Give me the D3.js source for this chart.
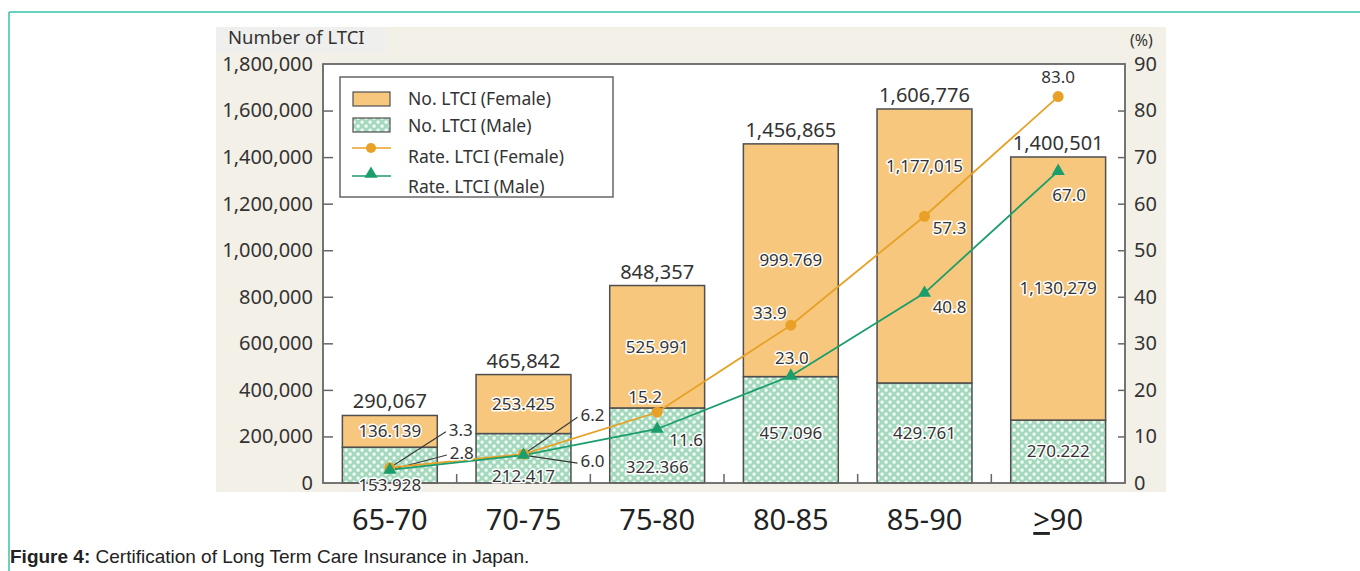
<!DOCTYPE html>
<html><head><meta charset="utf-8">
<script src="https://cdn.jsdelivr.net/npm/d3@7"></script>
<style>
html,body{margin:0;padding:0;background:#fff;}
svg{display:block;}
</style></head>
<body>
<svg id="chart" width="1360" height="571"></svg>
<script>
// ---- data ----
const categories = ["65-70", "70-75", "75-80", "80-85", "85-90", ">=90"];
const femaleCount = [136139, 253425, 525991, 999769, 1177015, 1130279];
const maleCount = [153928, 212417, 322366, 457096, 429761, 270222];
const totalLabels = ["290,067", "465,842", "848,357", "1,456,865", "1,606,776", "1,400,501"];
const femaleLabels = ["136.139", "253.425", "525.991", "999.769", "1,177,015", "1,130,279"];
const maleLabels = ["153.928", "212.417", "322.366", "457.096", "429.761", "270.222"];
const femaleRate = [3.3, 6.2, 15.2, 33.9, 57.3, 83.0];
const maleRate = [2.8, 6.0, 11.6, 23.0, 40.8, 67.0];
const leftTicks = [0, 200000, 400000, 600000, 800000, 1000000, 1200000, 1400000, 1600000, 1800000];
const rightTicks = [0, 10, 20, 30, 40, 50, 60, 70, 80, 90];
const legendLabels = ["No. LTCI (Female)", "No. LTCI (Male)", "Rate. LTCI (Female)", "Rate. LTCI (Male)"];

// ---- layout helpers (not data) ----
const femaleLabelFrac = [0.5, 0.5, 0.5, 0.5, 0.79, 0.5];
const maleLabelFrac = [-0.05, 0.14, 0.21, 0.47, 0.5, 0.5];
const femaleRateOff = [[71,-38,true],[69,-39,true],[-12,-15,false],[-21,-12,false],[25,12,false],[0,-20,false]];
const maleRateOff = [[72,-17,true],[69,6,true],[29,11,false],[1,-18,false],[25,14,false],[11,24,false]];

const C = {frame:"#34c4a6", beige:"#f3f0e8", axis:"#666", text:"#333", female:"#f6c77d",
  barStroke:"#4f4f4f", orange:"#e8a126", green:"#1c9d6c", maleBase:"#a4d9bd"};
const FONT = "'Noto Sans', 'Open Sans', sans-serif";

const svg = d3.select("#chart");

// frame
svg.append("line").attr("x1",9).attr("x2",1360).attr("y1",12).attr("y2",12).attr("stroke",C.frame).attr("stroke-width",1.5);
svg.append("line").attr("x1",9).attr("x2",9).attr("y1",12).attr("y2",571).attr("stroke",C.frame).attr("stroke-width",1.5);

// beige background
svg.append("rect").attr("x",216).attr("y",27).attr("width",950).attr("height",465).attr("fill",C.beige);
svg.append("rect").attr("x",216).attr("y",27).attr("width",170).attr("height",26).attr("fill","#efefed");

// pattern
const defs = svg.append("defs");
const pat = defs.append("pattern").attr("id","maleP").attr("patternUnits","userSpaceOnUse")
  .attr("width",8).attr("height",8);
pat.append("rect").attr("width",8).attr("height",8).attr("fill",C.maleBase);
pat.append("rect").attr("x",0.5).attr("y",0.5).attr("width",3.2).attr("height",3.2).attr("rx",1.2).attr("fill","#f4fbf6");
pat.append("rect").attr("x",4.5).attr("y",4.5).attr("width",3.2).attr("height",3.2).attr("rx",1.2).attr("fill","#f4fbf6");

const L = 323, R = 1125, T = 64, B = 483;
const x = d3.scaleBand().domain(categories).range([L, R]).paddingInner(0.29).paddingOuter(0.145);
const yL = d3.scaleLinear().domain([0, 1800000]).range([B, T]);
const yR = d3.scaleLinear().domain([0, 90]).range([B, T]);

// plot area
svg.append("rect").attr("x",L).attr("y",T).attr("width",R-L).attr("height",B-T).attr("fill","#fff");

// axes
const leftAxis = d3.axisLeft(yL).tickValues(leftTicks).tickFormat(d3.format(",")).tickSize(-10).tickPadding(20);
const gl = svg.append("g").attr("transform",`translate(${L},0)`).call(leftAxis);
gl.select(".domain").remove();
gl.selectAll(".tick line").attr("stroke",C.axis).attr("stroke-width",1.5);
gl.selectAll(".tick text").attr("font-family",FONT).attr("font-size",20).attr("fill",C.text).attr("x",-10);
gl.selectAll(".tick").filter(d=>d===0||d===1800000).select("line").remove();

const rightAxis = d3.axisRight(yR).tickValues(rightTicks).tickSize(-7).tickPadding(16);
const gr = svg.append("g").attr("transform",`translate(${R},0)`).call(rightAxis);
gr.select(".domain").remove();
gr.selectAll(".tick line").attr("stroke",C.axis).attr("stroke-width",1.5);
gr.selectAll(".tick text").attr("font-family",FONT).attr("font-size",20).attr("fill",C.text).attr("x",9);
gr.selectAll(".tick").filter(d=>d===0||d===90).select("line").remove();

// x ticks between bars
const step = x.step();
svg.append("g").selectAll("line").data(categories.slice(1)).join("line")
  .attr("x1",d=>x(d)-step*x.paddingInner()/2).attr("x2",d=>x(d)-step*x.paddingInner()/2)
  .attr("y1",B).attr("y2",B-9).attr("stroke",C.axis).attr("stroke-width",1.5);

// bars
const bars = svg.append("g");
categories.forEach((c,i)=>{
  const bx = x(c), bw = x.bandwidth();
  bars.append("rect").attr("x",bx).attr("y",yL(maleCount[i])).attr("width",bw).attr("height",B-yL(maleCount[i]))
    .attr("fill","url(#maleP)").attr("stroke",C.barStroke).attr("stroke-width",1.5);
  bars.append("rect").attr("x",bx).attr("y",yL(maleCount[i]+femaleCount[i])).attr("width",bw)
    .attr("height",yL(maleCount[i])-yL(maleCount[i]+femaleCount[i]))
    .attr("fill",C.female).attr("stroke",C.barStroke).attr("stroke-width",1.5);
});

// plot frame
svg.append("rect").attr("x",L).attr("y",T).attr("width",R-L).attr("height",B-T).attr("fill","none")
  .attr("stroke",C.axis).attr("stroke-width",1.8);

// totals
svg.append("g").selectAll("text").data(categories).join("text")
  .attr("x",d=>x(d)+x.bandwidth()/2).attr("y",(d,i)=>yL(maleCount[i]+femaleCount[i])-7)
  .attr("text-anchor","middle").attr("font-family",FONT).attr("font-size",20).attr("fill",C.text)
  .text((d,i)=>totalLabels[i]);

function halo(sel){ return sel.attr("stroke","#fff").attr("stroke-width",3).attr("paint-order","stroke").attr("stroke-linejoin","round"); }

// inner labels
svg.append("g").selectAll("text").data(categories).join("text")
  .attr("x",d=>x(d)+x.bandwidth()/2)
  .attr("y",(d,i)=>yL(maleCount[i]+femaleCount[i]*femaleLabelFrac[i]))
  .attr("dy","0.35em").attr("text-anchor","middle").attr("font-family",FONT).attr("font-size",17).attr("fill",C.text)
  .text((d,i)=>femaleLabels[i]).call(halo);
svg.append("g").selectAll("text").data(categories).join("text")
  .attr("x",d=>x(d)+x.bandwidth()/2)
  .attr("y",(d,i)=>yL(maleCount[i]*maleLabelFrac[i]))
  .attr("dy","0.35em").attr("text-anchor","middle").attr("font-family",FONT).attr("font-size",17).attr("fill",C.text)
  .text((d,i)=>maleLabels[i]).call(halo);

// callout lines
const cx = d => x(d)+x.bandwidth()/2;
const callG = svg.append("g");
function callouts(rates, offs){
  categories.forEach((c,i)=>{
    if(!offs[i][2]) return;
    callG.append("line").attr("x1",cx(c)).attr("y1",yR(rates[i]))
      .attr("x2",cx(c)+offs[i][0]-15).attr("y2",yR(rates[i])+offs[i][1]+2)
      .attr("stroke","#3a3a3a").attr("stroke-width",1.2);
  });
}
callouts(femaleRate, femaleRateOff);
callouts(maleRate, maleRateOff);

// lines
const lineF = d3.line().x((d,i)=>cx(categories[i])).y(d=>yR(d));
svg.append("path").attr("d",lineF(femaleRate)).attr("fill","none").attr("stroke",C.orange).attr("stroke-width",1.8);
svg.append("path").attr("d",lineF(maleRate)).attr("fill","none").attr("stroke",C.green).attr("stroke-width",1.8);
svg.append("g").selectAll("circle").data(femaleRate).join("circle")
  .attr("cx",(d,i)=>cx(categories[i])).attr("cy",d=>yR(d)).attr("r",5.5).attr("fill",C.orange);
const tri = d3.symbol().type(d3.symbolTriangle).size(75);
svg.append("g").selectAll("path").data(maleRate).join("path")
  .attr("transform",(d,i)=>`translate(${cx(categories[i])},${yR(d)})`).attr("d",tri).attr("fill",C.green);

// rate labels
function rateLabels(rates, offs){
  svg.append("g").selectAll("text").data(rates).join("text")
    .attr("x",(d,i)=>cx(categories[i])+offs[i][0]).attr("y",(d,i)=>yR(d)+offs[i][1])
    .attr("dy","0.35em").attr("text-anchor","middle").attr("font-family",FONT).attr("font-size",17).attr("fill",C.text)
    .text(d=>d.toFixed(1)).call(halo);
}
rateLabels(femaleRate, femaleRateOff);
rateLabels(maleRate, maleRateOff);

// legend
const lg = svg.append("g");
lg.append("rect").attr("x",340).attr("y",77).attr("width",273).attr("height",120).attr("fill","#fff")
  .attr("stroke",C.axis).attr("stroke-width",1.5);
const ly = [99, 126, 157, 187];
lg.append("rect").attr("x",353).attr("y",92).attr("width",37).attr("height",14).attr("fill",C.female).attr("stroke",C.barStroke).attr("stroke-width",1.2);
lg.append("rect").attr("x",353).attr("y",118).attr("width",37).attr("height",14).attr("fill","url(#maleP)").attr("stroke",C.barStroke).attr("stroke-width",1.2);
lg.append("line").attr("x1",352).attr("x2",391).attr("y1",148).attr("y2",148).attr("stroke",C.orange).attr("stroke-width",1.5);
lg.append("circle").attr("cx",371).attr("cy",148).attr("r",5).attr("fill",C.orange);
lg.append("line").attr("x1",352).attr("x2",391).attr("y1",176).attr("y2",176).attr("stroke",C.green).attr("stroke-width",1.5);
lg.append("path").attr("transform","translate(371,174)").attr("d",tri).attr("fill",C.green);
lg.selectAll("text").data(legendLabels).join("text")
  .attr("x",408).attr("y",(d,i)=>ly[i]).attr("dy","0.35em").attr("font-family",FONT).attr("font-size",17.5).attr("fill",C.text)
  .text(d=>d);

// axis titles
svg.append("text").attr("x",228).attr("y",44).attr("font-family",FONT).attr("font-size",18.5).attr("fill",C.text).text("Number of LTCI");
svg.append("text").attr("x",1130).attr("y",46).attr("font-family",FONT).attr("font-size",16).attr("fill",C.text).text("(%)");

// category labels
const catG = svg.append("g");
categories.forEach((c,i)=>{
  const t = catG.append("text").attr("x",cx(c)).attr("y",530).attr("text-anchor","middle")
    .attr("font-family",FONT).attr("font-size",29).attr("fill","#222");
  if(c.startsWith(">=")){
    t.append("tspan").attr("text-decoration","underline").text(">");
    t.append("tspan").text(c.slice(2));
  } else t.text(c);
});

// caption
const cap = svg.append("text").attr("x",10).attr("y",563).attr("font-family","'Liberation Sans', Arial, sans-serif").attr("font-size",19).attr("fill","#222");
cap.append("tspan").attr("font-weight","bold").text("Figure 4:");
cap.append("tspan").text(" Certification of Long Term Care Insurance in Japan.");
</script>
</body></html>
